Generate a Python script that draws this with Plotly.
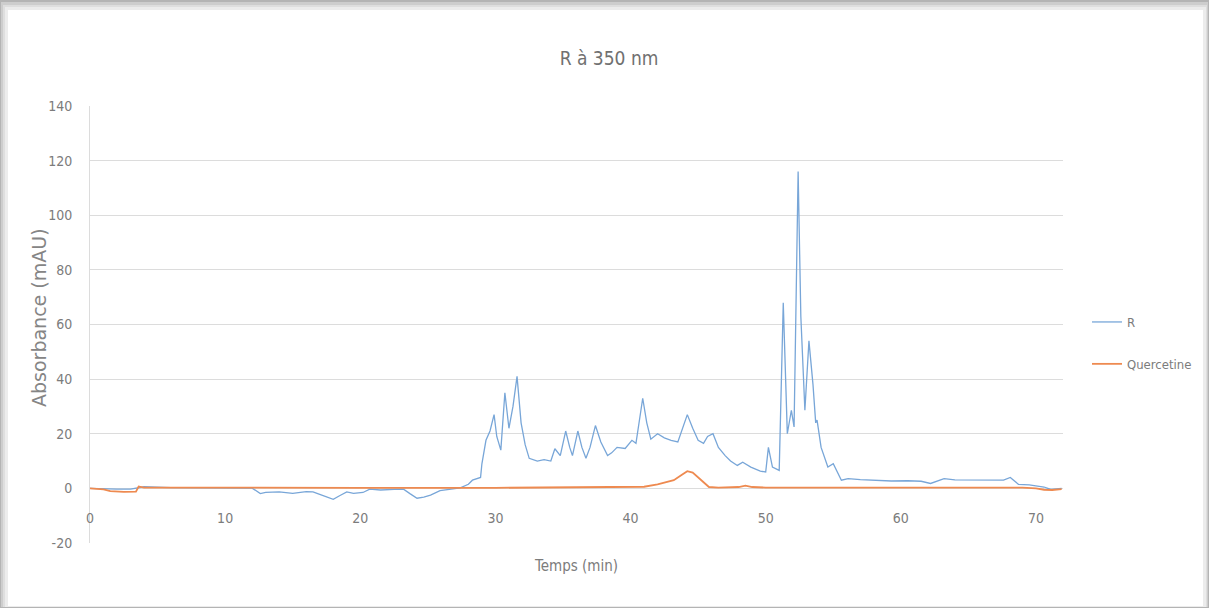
import plotly.graph_objects as go

# ---------------- data ----------------
r_time = [0, 1, 2, 3, 3.5, 4, 6, 8, 10, 12, 12.6, 13, 14, 15, 16, 16.5, 17, 17.5, 18, 18.5,
          19, 19.5, 20.2, 20.7, 21.5, 22.5, 23.2, 23.7, 24.2, 24.7, 25.2, 25.9, 26.5, 27.4,
          28.0, 28.3, 28.9, 29.0, 29.3, 29.6, 29.9, 30.1, 30.4, 30.7, 31.0, 31.3, 31.6, 31.9,
          32.2, 32.5, 33.1, 33.6, 34.1, 34.4, 34.8, 35.2, 35.5, 35.7, 36.1, 36.4, 36.7, 37.0,
          37.4, 37.8, 38.3, 38.6, 39.0, 39.6, 40.1, 40.4, 40.9, 41.2, 41.5, 42.0, 42.5, 43.0,
          43.5, 44.2, 44.6, 45.0, 45.4, 45.7, 46.1, 46.5, 47.0, 47.4, 47.9, 48.3, 48.9, 49.6,
          50.0, 50.2, 50.5, 51.0, 51.3, 51.6, 51.9, 52.1, 52.4, 52.6, 52.9, 53.2, 53.5, 53.7,
          53.8, 54.1, 54.6, 55.0, 55.6, 56.1, 57, 58, 59.3, 60.5, 61.5, 62.2, 62.6, 63.2, 64,
          65, 66, 67, 67.6, 68.1, 68.7, 69.5, 70.1, 70.6, 71.1, 71.9]
r_abs = [0, -0.2, -0.3, -0.3, 0.2, 0.6, 0.3, 0.2, 0.2, 0.1, -1.9, -1.5, -1.3, -1.8, -1.2, -1.3,
         -2.2, -3.2, -4.0, -2.6, -1.3, -1.8, -1.5, -0.3, -0.6, -0.4, -0.3, -2.0, -3.6, -3.2,
         -2.5, -0.8, -0.5, 0.2, 1.5, 3.0, 4.0, 9, 17.6, 21, 27, 19, 14, 35, 22, 30, 41, 24,
         16, 11, 10, 10.5, 10, 14.5, 12, 21, 15, 12, 21, 15, 11, 15, 23, 17, 12, 13, 15, 14.6,
         17.6, 16.5, 33, 24, 18, 20, 18.5, 17.6, 17, 27, 22, 17.6, 16.5, 19, 20, 15, 12, 10,
         8.4, 9.6, 7.8, 6.3, 6, 15, 7.8, 6.6, 68, 20, 28.6, 22.5, 116, 63, 28.6, 54, 38, 24,
         25, 15, 7.8, 9, 3, 3.6, 3.2, 3.0, 2.7, 2.8, 2.6, 1.8, 2.5, 3.6, 3.1, 3.0, 3.1, 3.0,
         3.0, 4.0, 1.5, 1.3, 1.0, 0.5, -0.4, 0]

q_time = [0, 1, 1.5, 2.5, 3.4, 3.6, 4, 10, 20, 30, 38, 41, 42, 43.2, 43.8, 44.2, 44.6, 45,
          45.4, 45.8, 46.5, 48, 48.5, 49, 50, 60, 68, 69, 70, 70.6, 71.2, 71.9]
q_abs = [0, -0.4, -1.0, -1.3, -1.2, 0.7, 0.3, 0.2, 0.2, 0.2, 0.3, 0.6, 1.5, 3, 5, 6.3, 5.8, 4,
         2, 0.5, 0.3, 0.5, 1.0, 0.5, 0.3, 0.2, 0.2, 0.3, 0, -0.5, -0.6, -0.3]

x_ticks = [0, 10, 20, 30, 40, 50, 60, 70]
y_ticks = [-20, 0, 20, 40, 60, 80, 100, 120, 140]
y_tick_labels = ["-20", "0", "20", "40", "60", "80", "100", "120", "140"]

title_text = "R à 350 nm"
x_title = "Temps (min)"
y_title = "Absorbance (mAU)"

# ---------------- layout geometry ----------------
W, H = 1209, 608
L, R, T, B = 90, 146, 106, 65
pw, ph = W - L - R, H - T - B

def px_x(p):
    return (p - L) / pw

def px_y(p):
    return (H - B - p) / ph

NARROW = "DejaVu Sans Condensed, Liberation Sans Narrow, sans-serif"
GREY = "#7c7c7c"
GRID = "#dcdcdc"

fig = go.Figure()
fig.add_trace(go.Scatter(x=r_time, y=r_abs, mode="lines", name="R",
                         line=dict(color="#78a6d8", width=1.3), legendgroup="a"))
fig.add_trace(go.Scatter(x=q_time, y=q_abs, mode="lines", name="Quercetine",
                         line=dict(color="#ee8a50", width=1.8), legendgroup="b"))

# soft frame (fake shadow) around the chart area
frame = [("#cdcdcd", 1, 2, 1208, 607), ("#dedede", 3, 5, 1207, 607),
         ("#ececec", 5, 7, 1206, 607), ("white", 8, 10, 1203, 606)]
shapes = [dict(type="rect", xref="paper", yref="paper", layer="below",
               x0=px_x(x0), x1=px_x(x1), y0=px_y(y1), y1=px_y(y0),
               fillcolor=c, line=dict(width=0)) for c, x0, y0, x1, y1 in frame]

ymin, ymax = -20, 140
fig.update_layout(
    width=W, height=H,
    margin=dict(l=L, r=R, t=T, b=B, autoexpand=False),
    paper_bgcolor="#b4b4b4",
    plot_bgcolor="white",
    font=dict(family=NARROW, color=GREY, size=13),
    title=dict(text=title_text, x=609 / W, xanchor="center", y=1 - 58 / H, yanchor="middle",
               font=dict(family=NARROW, size=19, color="#707070")),
    showlegend=True,
    legend=dict(x=px_x(1087), xanchor="left", y=px_y(343), yanchor="middle",
                font=dict(family=NARROW, size=13, color=GREY), tracegroupgap=22,
                bgcolor="rgba(0,0,0,0)", itemwidth=30),
    xaxis=dict(range=[0, 72], tickvals=x_ticks, showgrid=False, zeroline=False,
               showline=False, anchor="free", position=(0 - ymin) / (ymax - ymin),
               ticks="", ticklabelstandoff=20, tickfont=dict(size=14, color=GREY)),
    yaxis=dict(range=[ymin, ymax], tickvals=y_ticks, ticktext=y_tick_labels,
               showgrid=True, gridcolor=GRID,
               gridwidth=1, zeroline=True, zerolinecolor=GRID, zerolinewidth=1,
               showline=True, linecolor=GRID, ticks="", ticklabelstandoff=14,
               tickfont=dict(size=14, color=GREY)),
    shapes=shapes,
    annotations=[
        dict(text=x_title, xref="paper", yref="paper", x=px_x(576), y=px_y(566),
             xanchor="center", yanchor="middle", showarrow=False,
             font=dict(family=NARROW, size=15, color=GREY)),
        dict(text=y_title, xref="paper", yref="paper", x=px_x(39), y=px_y(318),
             xanchor="center", yanchor="middle", showarrow=False, textangle=-90,
             font=dict(family="DejaVu Sans, sans-serif", size=19, color="#858585")),
    ],
)

fig.write_html("out.html", config={"displayModeBar": False},
               post_script="document.body.style.margin='0';document.body.style.overflow='hidden';")
